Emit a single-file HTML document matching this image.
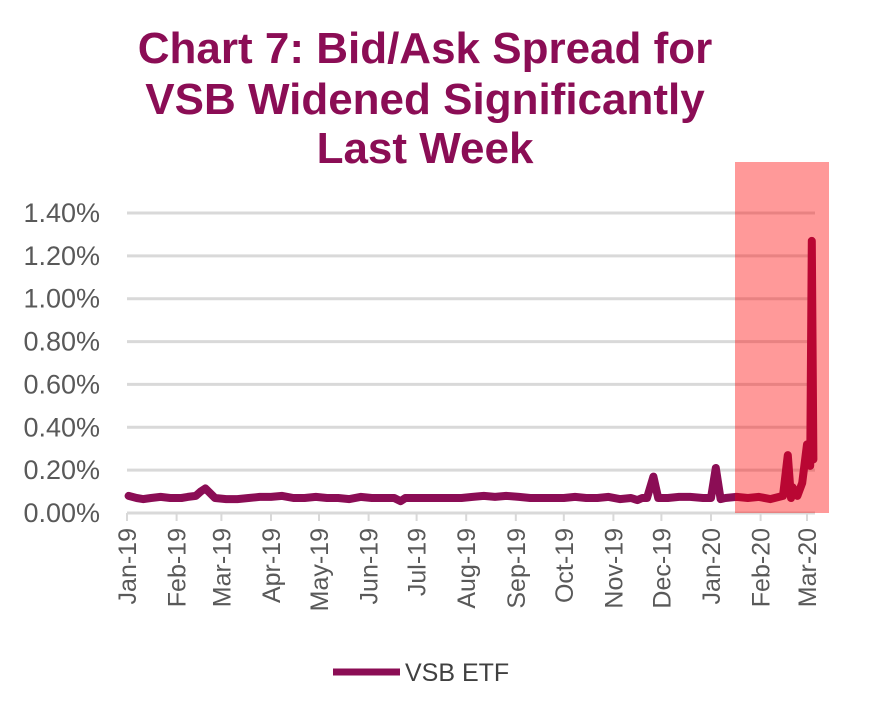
<!DOCTYPE html>
<html><head><meta charset="utf-8"><style>
body{margin:0;background:#fff;}
svg{display:block;font-family:"Liberation Sans",Arial,sans-serif;}
</style></head><body>
<svg id="chart" width="892" height="724" viewBox="0 0 892 724">
<g fill="#8B0D55" font-weight="bold" font-size="44" text-anchor="middle">
<text x="425" y="63">Chart 7: Bid/Ask Spread for</text>
<text x="425" y="114">VSB Widened Significantly</text>
<text x="425" y="163">Last Week</text>
</g>
<g id="grid"></g>
<g id="yticks"></g>
<g id="xticks"></g>
<g id="series"></g>
<rect x="735" y="162" width="94" height="351" fill="rgba(255,0,0,0.4)"/>
<g>
<line x1="333" y1="672" x2="400" y2="672" stroke="#8B0D55" stroke-width="7"/>
<text x="405" y="681" font-size="25" fill="#404040">VSB ETF</text>
</g>
</svg>
<script>
const yTicks=[0,0.2,0.4,0.6,0.8,1.0,1.2,1.4];
const monthLabels=["Jan-19","Feb-19","Mar-19","Apr-19","May-19","Jun-19","Jul-19","Aug-19","Sep-19","Oct-19","Nov-19","Dec-19","Jan-20","Feb-20","Mar-20"];
const dates=["2019-01-02","2019-01-07","2019-01-11","2019-01-16","2019-01-22","2019-01-28","2019-02-04","2019-02-08","2019-02-13","2019-02-16","2019-02-19","2019-02-25","2019-03-04","2019-03-11","2019-03-18","2019-03-25","2019-04-01","2019-04-08","2019-04-15","2019-04-22","2019-04-29","2019-05-06","2019-05-13","2019-05-20","2019-05-27","2019-06-03","2019-06-10","2019-06-17","2019-06-21","2019-06-24","2019-07-01","2019-07-15","2019-07-29","2019-08-05","2019-08-12","2019-08-19","2019-08-26","2019-09-03","2019-09-10","2019-09-17","2019-09-24","2019-10-01","2019-10-08","2019-10-15","2019-10-22","2019-10-29","2019-11-05","2019-11-12","2019-11-16","2019-11-19","2019-11-22","2019-11-26","2019-11-29","2019-12-05","2019-12-12","2019-12-19","2019-12-27","2020-01-01","2020-01-04","2020-01-07","2020-01-10","2020-01-17","2020-01-24","2020-01-31","2020-02-07","2020-02-15","2020-02-18","2020-02-20","2020-02-21","2020-02-24","2020-02-27","2020-03-01","2020-03-03","2020-03-04","2020-03-05"];
const values=[0.08,0.07,0.065,0.07,0.075,0.07,0.07,0.075,0.08,0.1,0.115,0.07,0.065,0.065,0.07,0.075,0.075,0.08,0.07,0.07,0.075,0.07,0.07,0.065,0.075,0.07,0.07,0.07,0.055,0.07,0.07,0.07,0.07,0.075,0.08,0.075,0.08,0.075,0.07,0.07,0.07,0.07,0.075,0.07,0.07,0.075,0.065,0.07,0.06,0.07,0.07,0.17,0.07,0.07,0.075,0.075,0.07,0.07,0.21,0.065,0.07,0.075,0.07,0.075,0.065,0.08,0.27,0.07,0.12,0.08,0.14,0.32,0.22,1.27,0.25];
const X0=127,X1=807,Y0=513,Y1=213;
const t0=Date.parse("2019-01-01"),t1=Date.parse("2020-03-01");
function xs(d){return X0+(Date.parse(d)-t0)/(t1-t0)*(X1-X0);}
function ys(v){return Y0-v/1.4*(Y0-Y1);}
const NS="http://www.w3.org/2000/svg";
function mk(tag,attrs,parent,txt){const e=document.createElementNS(NS,tag);for(const k in attrs)e.setAttribute(k,attrs[k]);if(txt!==undefined)e.textContent=txt;document.getElementById(parent).appendChild(e);return e;}
yTicks.forEach(v=>{
 const g=mk("line",{x1:127,x2:815,y1:ys(v),y2:ys(v),stroke:"#d9d9d9","stroke-width":3},"grid");
 
 
 const t=mk("text",{x:100,y:ys(v)+9,"text-anchor":"end","font-size":27,fill:"#595959"},"yticks",v.toFixed(2)+"%");
 
 
});
monthLabels.forEach((m,i)=>{
 const d=new Date(Date.UTC(2019+Math.floor(i/12),i%12,1)).toISOString().slice(0,10);
 const x=xs(d);
 const tk=mk("line",{x1:x,x2:x,y1:513,y2:521,stroke:"#d9d9d9","stroke-width":2},"xticks");
 
 
 const t=mk("text",{x:0,y:0,"text-anchor":"end","font-size":25,fill:"#595959",transform:`translate(${x+9},528) rotate(-90)`},"xticks",m);
 
 
});
const pts=dates.map((d,i)=>xs(d).toFixed(1)+","+ys(values[i]).toFixed(1)).join(" ");
const pl=mk("polyline",{points:pts,fill:"none",stroke:"#8B0D55","stroke-width":8,"stroke-linejoin":"round","stroke-linecap":"round"},"series");


</script>
</body></html>
